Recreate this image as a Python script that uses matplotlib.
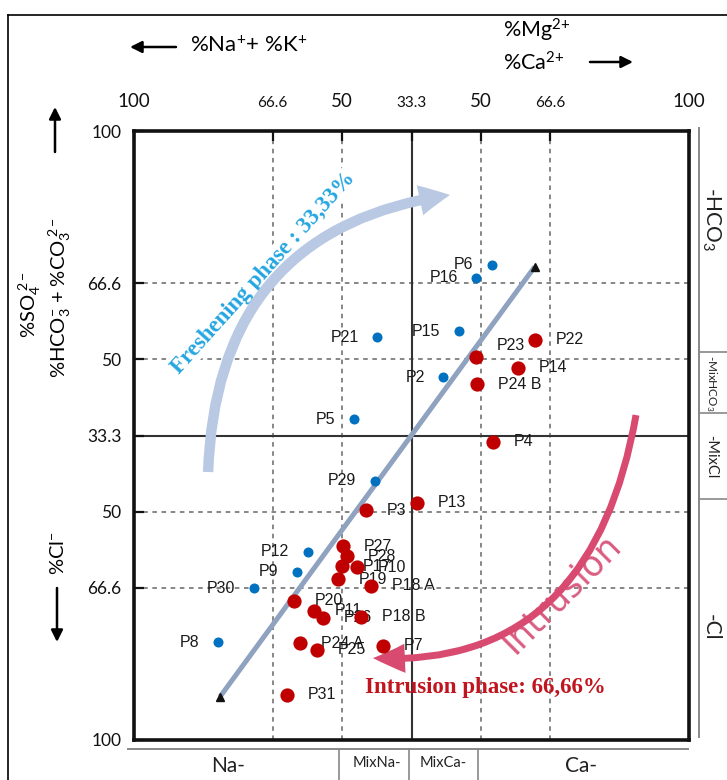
import matplotlib
matplotlib.use('Agg')
import matplotlib.pyplot as plt
from matplotlib.patches import FancyArrowPatch
from matplotlib.lines import Line2D

plt.rcParams['font.family'] = ['Lato', 'DejaVu Sans']
plt.rcParams['mathtext.fontset'] = 'custom'
plt.rcParams['mathtext.rm'] = 'Lato'
plt.rcParams['mathtext.it'] = 'Lato:italic'
plt.rcParams['mathtext.bf'] = 'Lato:bold'

# ---------------- data ----------------
fresh_names = ['P6', 'P16', 'P15', 'P2', 'P21', 'P5', 'P29', 'P12', 'P9', 'P30', 'P8']
fresh_x = [28.9, 23.4, 17.1, 11.5, -12.3, -20.7, -13.2, -37.4, -41.3, -56.9, -69.8]
fresh_y = [56.0, 51.8, 34.3, 19.1, 32.2, 5.4, -14.9, -38.2, -44.7, -50.2, -67.9]

intr_names = ['P22', 'P23', 'P14', 'P24 B', 'P4', 'P13', 'P3', 'P27', 'P28', 'P17',
              'P10', 'P19', 'P18 A', 'P20', 'P11', 'P26', 'P18 B', 'P24 A', 'P25',
              'P7', 'P31']
intr_x = [44.5, 23.1, 38.5, 23.7, 29.5, 2.1, -16.5, -24.8, -23.4, -25.2,
          -19.7, -26.6, -14.6, -42.2, -35.0, -31.8, -18.3, -40.2, -34.2,
          -10.4, -45.0]
intr_y = [31.4, 25.9, 22.2, 16.9, -2.1, -22.1, -24.5, -36.3, -39.6, -42.9,
          -43.3, -47.2, -49.3, -54.2, -57.6, -59.8, -59.5, -68.2, -70.4,
          -69.1, -85.2]

trend_x = [-69.0, 44.4]
trend_y = [-85.8, 55.4]

tick_pos = [-100, -50, -25, 0, 25, 50, 100]
x_tick_labels = ['100', '66.6', '50', '33.3', '50', '66.6', '100']
y_tick_labels = ['100', '66.6', '50', '33.3', '50', '66.6', '100']

bottom_classes = ['Na-', 'MixNa-', 'MixCa-', 'Ca-']
right_classes = [r'-HCO$_3$', r'-MixHCO$_3$', '-MixCl', '-Cl']

# ---------------- figure ----------------
W, H = 727, 780
fig = plt.figure(figsize=(W / 100, H / 100), dpi=100)
fig.patch.set_facecolor('white')

L, R, T, B = 134, 689, 131, 740
ax = fig.add_axes([L / W, 1 - B / H, (R - L) / W, (B - T) / H])
ax.set_xlim(-100, 100)
ax.set_ylim(-100, 100)


def fp(px, py):
    """pixel (from top-left) -> figure fraction"""
    return px / W, 1 - py / H


# outer border (top & left visible)
fig.add_artist(Line2D([8 / W, 1], [1 - 15 / H, 1 - 15 / H], color='black', lw=1.2))
fig.add_artist(Line2D([8 / W, 8 / W], [0, 1 - 15 / H], color='black', lw=1.2))

# grid
for v in [-50, -25, 25, 50]:
    ax.axvline(v, color='#666666', lw=1.1, ls=(0, (3, 3)), zorder=1)
    ax.axhline(v, color='#666666', lw=1.1, ls=(0, (3, 3)), zorder=1)
ax.axvline(0, color='#333333', lw=1.5, zorder=1.5)
ax.axhline(0, color='#333333', lw=1.5, zorder=1.5)

for s in ax.spines.values():
    s.set_linewidth(2.6)
    s.set_color('#111111')

# ticks
ax.xaxis.tick_top()
ax.set_xticks(tick_pos)
ax.set_xticklabels(x_tick_labels)
ax.set_yticks(tick_pos)
ax.set_yticklabels(y_tick_labels)
ax.tick_params(axis='x', direction='in', length=7, width=1.6, pad=15,
               top=True, bottom=False, colors='#111111', labelsize=13.5)
ax.tick_params(axis='y', direction='in', length=7, width=1.6, pad=9,
               left=True, right=False, colors='#111111', labelsize=12.5)
for lab, txt in zip(ax.get_xticklabels(), x_tick_labels):
    if txt in ('66.6', '33.3'):
        lab.set_fontsize(11)

# trend line
ax.plot(trend_x, trend_y, color='#8FA2BF', lw=3.6, zorder=3, solid_capstyle='butt')
ax.plot(trend_x, trend_y, ls='none', marker='^', ms=5.5, color='#111111', zorder=3.5)

# big curved arrows
blue_arc = FancyArrowPatch((-73.3, -12.0), (13.9, 79.0),
                           connectionstyle='angle3,angleA=88,angleB=8',
                           arrowstyle='simple,head_length=22,head_width=22,tail_width=7.5',
                           mutation_scale=1, color='#B9C9E4', lw=0, zorder=2.5,
                           shrinkA=0, shrinkB=0, transform=ax.transData)
ax.add_patch(blue_arc)
red_arc = FancyArrowPatch((80.9, 6.7), (-13.9, -73.1),
                          connectionstyle='angle3,angleA=80,angleB=-3',
                          arrowstyle='simple,head_length=23,head_width=21,tail_width=5',
                          mutation_scale=1, color='#D84A70', lw=0, zorder=2.5,
                          shrinkA=0, shrinkB=0, transform=ax.transData)
ax.add_patch(red_arc)

# points
ax.scatter(fresh_x, fresh_y, s=52, color='#0070C0', zorder=6, linewidths=0)
ax.scatter(intr_x, intr_y, s=105, color='#C00000', zorder=6, linewidths=0)

lab_font = dict(family=['Liberation Sans', 'DejaVu Sans'], fontsize=11.5, color='#1a1a1a')
for n, x, y in zip(fresh_names, fresh_x, fresh_y):
    ax.annotate(n, (x, y), xytext=(-13.5, 0), textcoords='offset points',
                ha='right', va='center', zorder=5, **lab_font)
for n, x, y in zip(intr_names, intr_x, intr_y):
    dy = 8 if n == 'P23' else 0
    ax.annotate(n, (x, y), xytext=(15, dy), textcoords='offset points',
                ha='left', va='center', zorder=5, **lab_font)

# phase texts
ax.text(-53.5, 53.5, 'Freshening phase : 33,33%', rotation=48, rotation_mode='anchor',
        ha='center', va='center', fontsize=16.5, fontweight='bold',
        family=['Liberation Serif', 'DejaVu Serif'], color='#25A6E0', zorder=2.4,
        bbox=dict(boxstyle='square,pad=0.05', fc='white', ec='none'))
ax.text(54.0, -52.0, 'Intrusion', rotation=45, rotation_mode='anchor',
        ha='center', va='center', fontsize=25, family=['DejaVu Sans'],
        color='#D95C80', zorder=2.4)
ax.text(26.5, -82.6, 'Intrusion phase: 66,66%', ha='center', va='center',
        fontsize=16.5, fontweight='bold', family=['Liberation Serif', 'DejaVu Serif'],
        color='#C0141E', zorder=4)

# ---------------- outer annotations ----------------
def arrow(p_tail, p_tip, lw=1.8):
    fig.add_artist(FancyArrowPatch(fp(*p_tail), fp(*p_tip), transform=fig.transFigure,
                                   arrowstyle='-|>,head_length=7,head_width=3.5',
                                   mutation_scale=1, lw=lw, color='black',
                                   shrinkA=0, shrinkB=0))

fig.text(*fp(190, 46), r'%Na$^{{+}}$+ %K$^{{+}}$', fontsize=16, ha='left', va='center')
arrow((176, 47), (130, 47))
fig.text(*fp(503, 30), r'%Mg$^{2{+}}$', fontsize=15.5, ha='left', va='center')
fig.text(*fp(503, 63), r'%Ca$^{2{+}}$', fontsize=15.5, ha='left', va='center')
arrow((590, 62), (633, 62))

arrow((55, 152), (55, 107))
fig.text(*fp(30, 305), r'%SO$_4^{\ 2-}$', fontsize=14.5, rotation=90, ha='center', va='center')
fig.text(*fp(60, 298), r'%HCO$_3^{-}$ + %CO$_3^{\ 2-}$', fontsize=14.5, rotation=90,
         ha='center', va='center')
fig.text(*fp(58, 553), r'%Cl$^{-}$', fontsize=14.5, rotation=90, ha='center', va='center')
arrow((57, 588), (57, 642))

# bottom classification band
ax.add_artist(Line2D([-102, 99.5], [-103, -103], color='#888888', lw=1.4,
                     transform=ax.transData, clip_on=False))
for xv in [-26, -1, 24]:
    ax.add_artist(Line2D([xv, xv], [-103, -115], color='#888888', lw=1.2,
                         transform=ax.transData, clip_on=False))
bx = [-66, -12.5, 11.5, 61]
bsz = [15, 10.5, 10.5, 15]
for lab, xv, sz in zip(bottom_classes, bx, bsz):
    ax.text(xv, -108.5 if sz > 12 else -107.5, lab, ha='center', va='center',
            fontsize=sz, clip_on=False, color='#222222')

# right classification band
ax.add_artist(Line2D([103.5, 103.5], [101, -99], color='#888888', lw=1.4,
                     transform=ax.transData, clip_on=False))
for yv in [27.4, 7.4, -20.9]:
    ax.add_artist(Line2D([103.5, 114], [yv, yv], color='#888888', lw=1.2,
                         transform=ax.transData, clip_on=False))
ry = [71, 17, -7, -63]
rsz = [15, 8.5, 10.5, 15]
for lab, yv, sz in zip(right_classes, ry, rsz):
    ax.text(108, yv, lab, rotation=270, ha='center', va='center',
            fontsize=sz, clip_on=False, color='#222222')

fig.savefig('out.png', dpi=100, facecolor='white')
